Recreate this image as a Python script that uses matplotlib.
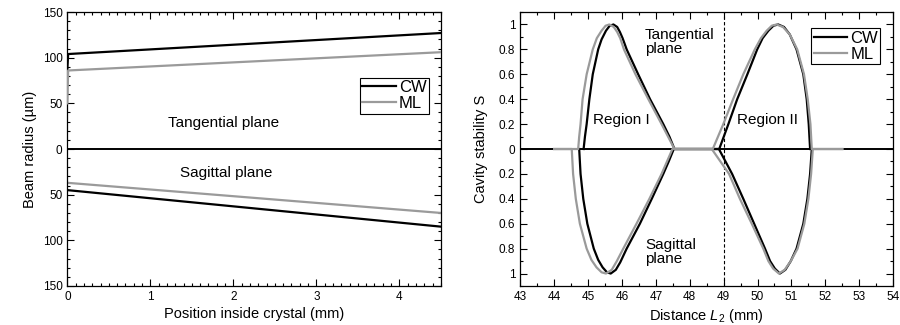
import matplotlib
matplotlib.use("Agg")
import matplotlib.pyplot as plt
from matplotlib.ticker import MultipleLocator, FuncFormatter

plt.rcParams["font.family"] = ["Liberation Sans", "DejaVu Sans"]
plt.rcParams["mathtext.fontset"] = "custom"
plt.rcParams["mathtext.it"] = "Liberation Sans:italic"
plt.rcParams["mathtext.rm"] = "Liberation Sans"

BLACK = "black"
GRAY = "#9a9a9a"

# ---- left panel: beam radius inside crystal (sagittal plotted negative)
pos_x = [0.0, 0.01, 4.5]
tan_cw = [87, 104, 127]
tan_ml = [50, 86, 106]
sag_x = [0.0, 4.5]
sag_cw = [-45, -85]
sag_ml = [-37, -70]

# ---- right panel: cavity stability vs distance L2
tcw_x = [44.87, 44.91, 44.96, 45.04, 45.14, 45.30, 45.40, 45.53, 45.64, 45.75, 45.86, 45.94, 46.02,
         46.14, 46.48, 46.83, 47.22, 47.40, 47.55,
         48.87, 49.14, 49.40, 49.70, 49.99, 50.15, 50.32, 50.47, 50.61, 50.78, 50.95, 51.15,
         51.35, 51.45, 51.51, 51.55]
tcw_y = [0, 0.1, 0.2, 0.4, 0.6, 0.8, 0.88, 0.95, 0.99, 1.0, 0.98, 0.94, 0.89,
         0.8, 0.6, 0.4, 0.2, 0.1, 0,
         0, 0.2, 0.4, 0.6, 0.8, 0.89, 0.95, 0.99, 1.0, 0.98, 0.92, 0.8,
         0.6, 0.4, 0.2, 0]

tml_x = [44.0, 44.71, 44.74, 44.78, 44.84, 44.96, 45.14, 45.26, 45.40, 45.52, 45.63, 45.76, 45.86,
         45.95, 46.06, 46.40, 46.78, 47.17, 47.36, 47.55,
         48.68, 48.99, 49.28, 49.58, 49.92, 50.10, 50.27, 50.42, 50.56, 50.75, 50.95, 51.17,
         51.37, 51.48, 51.56, 51.60, 52.5]
tml_y = [0, 0, 0.1, 0.2, 0.4, 0.6, 0.8, 0.89, 0.95, 0.99, 1.0, 0.98, 0.94,
         0.89, 0.8, 0.6, 0.4, 0.2, 0.1, 0,
         0, 0.2, 0.4, 0.6, 0.8, 0.89, 0.95, 0.99, 1.0, 0.98, 0.92, 0.8,
         0.6, 0.4, 0.2, 0, 0]

scw_x = [44.74, 44.76, 44.78, 44.86, 44.98, 45.17, 45.30, 45.43, 45.56, 45.67, 45.82, 45.95,
         46.14, 46.53, 46.88, 47.22, 47.38, 47.53,
         48.86, 49.25, 49.58, 49.90, 50.22, 50.37, 50.51, 50.66, 50.82, 50.98, 51.15,
         51.35, 51.47, 51.55, 51.60]
scw_y = [0, -0.1, -0.2, -0.4, -0.6, -0.8, -0.89, -0.95, -0.99, -1.0, -0.97, -0.91,
         -0.8, -0.6, -0.4, -0.2, -0.1, 0,
         0, -0.2, -0.4, -0.6, -0.8, -0.9, -0.96, -1.0, -0.97, -0.9, -0.8,
         -0.6, -0.4, -0.2, 0]

sml_x = [44.0, 44.52, 44.54, 44.56, 44.64, 44.76, 44.96, 45.10, 45.25, 45.40, 45.53, 45.70, 45.85,
         46.04, 46.43, 46.81, 47.17, 47.33, 47.49,
         48.65, 49.16, 49.48, 49.83, 50.17, 50.32, 50.46, 50.63, 50.80, 50.98, 51.18,
         51.38, 51.50, 51.58, 51.63, 52.5]
sml_y = [0, 0, -0.1, -0.2, -0.4, -0.6, -0.8, -0.89, -0.95, -0.99, -1.0, -0.97, -0.9,
         -0.8, -0.6, -0.4, -0.2, -0.1, 0,
         0, -0.2, -0.4, -0.6, -0.8, -0.9, -0.96, -1.0, -0.97, -0.9, -0.8,
         -0.6, -0.4, -0.2, 0, 0]

fig = plt.figure(figsize=(9, 3.25), dpi=100)
ax1 = fig.add_axes([0.0748, 0.12, 0.415, 0.843])
ax2 = fig.add_axes([0.578, 0.12, 0.4144, 0.843])


def style_axis(ax):
    ax.tick_params(which="both", direction="in", top=True, right=True, labelsize=8.5, width=0.8)
    ax.tick_params(which="major", length=5)
    ax.tick_params(which="minor", length=2.5)
    for s in ax.spines.values():
        s.set_linewidth(0.9)


abs_fmt = FuncFormatter(lambda v, p: f"{abs(round(v, 6)):g}")

# left
ax1.axhline(0, color=BLACK, lw=1.4)
ax1.plot(pos_x, tan_cw, color=BLACK, lw=1.6, label="CW", zorder=3)
ax1.plot(pos_x, tan_ml, color=GRAY, lw=1.6, label="ML", zorder=3)
ax1.plot(sag_x, sag_cw, color=BLACK, lw=1.6)
ax1.plot(sag_x, sag_ml, color=GRAY, lw=1.6)
ax1.set_xlim(0, 4.5)
ax1.set_ylim(-150, 150)
ax1.xaxis.set_major_locator(MultipleLocator(1))
ax1.xaxis.set_minor_locator(MultipleLocator(0.1))
ax1.yaxis.set_major_locator(MultipleLocator(50))
ax1.yaxis.set_minor_locator(MultipleLocator(10))
ax1.yaxis.set_major_formatter(abs_fmt)
ax1.set_xlabel("Position inside crystal (mm)", fontsize=10.5, labelpad=3)
ax1.set_ylabel("Beam radius (µm)", fontsize=10.5, labelpad=4)
ax1.text(1.21, 28.8, "Tangential plane", fontsize=11, va="center")
ax1.text(1.36, -26.6, "Sagittal plane", fontsize=11, va="center")
style_axis(ax1)
ax1.legend(loc="upper right", bbox_to_anchor=(0.969, 0.76), fancybox=False, edgecolor=BLACK,
           framealpha=1, fontsize=12, borderpad=0.15, handlelength=2.0, handletextpad=0.2,
           labelspacing=0.05, borderaxespad=0).get_frame().set_linewidth(0.8)

# right
ax2.axhline(0, color=BLACK, lw=1.4)
ax2.axvline(49, color=BLACK, lw=0.8, ls=(0, (3, 2)))
ax2.plot(tcw_x, tcw_y, color=BLACK, lw=1.6, label="CW")
ax2.plot(scw_x, scw_y, color=BLACK, lw=1.6)
ax2.plot(tml_x, tml_y, color=GRAY, lw=1.6, label="ML")
ax2.plot(sml_x, sml_y, color=GRAY, lw=1.6)
ax2.set_xlim(43, 54)
ax2.set_ylim(-1.1, 1.1)
ax2.xaxis.set_major_locator(MultipleLocator(1))
ax2.xaxis.set_minor_locator(MultipleLocator(0.5))
ax2.yaxis.set_major_locator(MultipleLocator(0.2))
ax2.yaxis.set_minor_locator(MultipleLocator(0.1))
ax2.yaxis.set_major_formatter(abs_fmt)
ax2.set_xlabel(r"Distance $L_2$ (mm)", fontsize=10.5, labelpad=3)
ax2.set_ylabel("Cavity stability S", fontsize=10.5, labelpad=8)
ax2.text(46.68, 0.86, "Tangential\nplane", fontsize=11, va="center", linespacing=1.0)
ax2.text(46.68, -0.83, "Sagittal\nplane", fontsize=11, va="center", linespacing=1.0)
ax2.text(45.15, 0.23, "Region I", fontsize=11, va="center")
ax2.text(49.4, 0.23, "Region II", fontsize=11, va="center")
style_axis(ax2)
ax2.legend(loc="upper right", bbox_to_anchor=(0.966, 0.94), fancybox=False, edgecolor=BLACK,
           framealpha=1, fontsize=12, borderpad=0.15, handlelength=2.0, handletextpad=0.2,
           labelspacing=0.05, borderaxespad=0).get_frame().set_linewidth(0.8)

fig.savefig("out.png", dpi=100)
